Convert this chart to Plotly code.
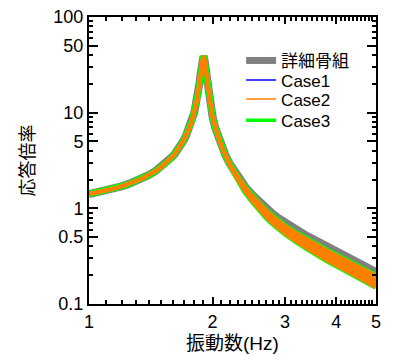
import plotly.graph_objects as go

freq = [1.0, 1.05, 1.1, 1.15, 1.2, 1.25, 1.3, 1.35, 1.4, 1.45, 1.5, 1.55, 1.6, 1.62, 1.64,
        1.66, 1.68, 1.70, 1.72, 1.74, 1.75, 1.76, 1.78, 1.79, 1.8, 1.81, 1.82, 1.83, 1.84,
        1.85, 1.86, 1.87, 1.88, 1.89, 1.9, 1.91, 1.92, 1.93, 1.94, 1.95, 1.96, 1.97, 1.98,
        1.99, 2.0, 2.03, 2.06, 2.1,
        2.15, 2.2, 2.25, 2.3, 2.4, 2.5, 2.6, 2.7, 2.8, 2.9, 3.0, 3.2, 3.4, 3.6, 3.8, 4.0,
        4.2, 4.4, 4.6, 4.8, 5.0]

detail_frame = [1.41, 1.47, 1.53, 1.61, 1.70, 1.80, 1.92, 2.06, 2.23, 2.44, 2.71, 3.05, 3.51, 3.74, 4.0,
                4.31, 4.68, 5.11, 5.65, 6.32, 6.73, 7.09, 8.2, 8.88, 9.7, 10.7, 11.9, 13.4, 15.3,
                17.8, 21.0, 25.1, 31.0, 36.0, 39.0, 36.0, 30.3, 24.6, 20.2, 16.9, 14.5, 12.6, 11.1,
                9.97, 9.0, 6.96, 5.70, 4.51,
                3.57, 2.94, 2.49, 2.16, 1.69, 1.38, 1.16, 1.00, 0.88, 0.785, 0.71, 0.60, 0.513, 0.452, 0.397, 0.355,
                0.319, 0.288, 0.260, 0.237, 0.216]

case1 = [1.41, 1.47, 1.53, 1.61, 1.70, 1.80, 1.92, 2.06, 2.23, 2.44, 2.71, 3.05, 3.51, 3.74, 4.0,
         4.31, 4.68, 5.11, 5.65, 6.32, 6.73, 7.09, 8.2, 8.88, 9.7, 10.7, 11.9, 13.4, 15.3,
         17.8, 21.0, 25.1, 31.0, 36.0, 39.0, 36.0, 30.3, 24.6, 20.2, 16.9, 14.5, 12.6, 11.1,
         9.97, 9.0, 6.96, 5.70, 4.51,
         3.57, 2.94, 2.48, 2.14, 1.66, 1.34, 1.11, 0.95, 0.827, 0.73, 0.653, 0.546, 0.467, 0.411, 0.361, 0.323,
         0.290, 0.262, 0.237, 0.216, 0.197]

case2_upper = [1.41, 1.47, 1.53, 1.61, 1.70, 1.80, 1.92, 2.06, 2.23, 2.44, 2.71, 3.05, 3.51, 3.74, 4.0,
               4.31, 4.68, 5.11, 5.65, 6.32, 6.73, 7.09, 8.2, 8.88, 9.7, 10.7, 11.9, 13.4, 15.3,
               17.8, 21.0, 25.1, 31.0, 36.0, 39.0, 36.0, 30.3, 24.6, 20.2, 16.9, 14.5, 12.6, 11.1,
               9.97, 9.0, 6.96, 5.70, 4.51,
               3.57, 2.94, 2.48, 2.14, 1.66, 1.34, 1.11, 0.95, 0.827, 0.73, 0.653, 0.546, 0.467, 0.411, 0.361, 0.323,
               0.290, 0.262, 0.237, 0.216, 0.197]
case2_lower = [1.41, 1.47, 1.53, 1.61, 1.70, 1.80, 1.92, 2.06, 2.23, 2.44, 2.71, 3.05, 3.51, 3.74, 4.0,
               4.31, 4.68, 5.11, 5.65, 6.32, 6.73, 7.09, 8.2, 8.88, 9.7, 10.7, 11.9, 13.4, 15.3,
               17.8, 21.0, 25.1, 31.0, 36.0, 39.0, 36.0, 30.3, 24.6, 20.2, 16.9, 14.5, 12.6, 11.1,
               9.97, 9.0, 6.96, 5.70, 4.51,
               3.52, 2.85, 2.37, 2.01, 1.50, 1.19, 0.97, 0.81, 0.70, 0.612, 0.547, 0.45, 0.377, 0.328, 0.286, 0.254,
               0.226, 0.203, 0.182, 0.166, 0.151]

case3_upper = [1.41, 1.47, 1.53, 1.61, 1.70, 1.80, 1.92, 2.06, 2.23, 2.44, 2.71, 3.05, 3.51, 3.74, 4.0,
               4.31, 4.68, 5.11, 5.65, 6.32, 6.73, 7.09, 8.2, 8.88, 9.7, 10.7, 11.9, 13.4, 15.3,
               17.8, 21.0, 25.1, 31.0, 36.0, 39.0, 36.0, 30.3, 24.6, 20.2, 16.9, 14.5, 12.6, 11.1,
               9.97, 9.0, 6.96, 5.70, 4.51,
               3.57, 2.94, 2.48, 2.14, 1.66, 1.34, 1.11, 0.95, 0.827, 0.73, 0.653, 0.546, 0.467, 0.411, 0.361, 0.323,
               0.290, 0.262, 0.237, 0.216, 0.197]
case3_lower = [1.41, 1.47, 1.53, 1.61, 1.70, 1.80, 1.92, 2.06, 2.23, 2.44, 2.71, 3.05, 3.51, 3.74, 4.0,
               4.31, 4.68, 5.11, 5.65, 6.32, 6.73, 7.09, 8.2, 8.88, 9.7, 10.7, 11.9, 13.4, 15.3,
               17.8, 21.0, 25.1, 31.0, 36.0, 39.0, 36.0, 30.3, 24.6, 20.2, 16.9, 14.5, 12.6, 11.1,
               9.97, 9.0, 6.96, 5.70, 4.51,
               3.52, 2.85, 2.37, 2.01, 1.50, 1.19, 0.97, 0.81, 0.70, 0.612, 0.547, 0.45, 0.377, 0.328, 0.286, 0.254,
               0.226, 0.203, 0.182, 0.166, 0.151]

x_tickvals = [1, 2, 3, 4, 5]
x_ticktext = ["1", "2", "3", "4", "5"]
y_tickvals = [0.1, 0.5, 1, 5, 10, 50, 100]
y_ticktext = ["0.1", "0.5", "1", "5", "10", "50", "100"]
x_minor = [1.1, 1.2, 1.3, 1.4, 1.5, 1.6, 1.7, 1.8, 1.9,
           2.1, 2.2, 2.3, 2.4, 2.5, 2.6, 2.7, 2.8, 2.9,
           3.1, 3.2, 3.3, 3.4, 3.5, 3.6, 3.7, 3.8, 3.9,
           4.1, 4.2, 4.3, 4.4, 4.5, 4.6, 4.7, 4.8, 4.9]
y_minor = [0.2, 0.3, 0.4, 0.6, 0.7, 0.8, 0.9, 2, 3, 4, 6, 7, 8, 9,
           20, 30, 40, 60, 70, 80, 90]

legend_names = ["詳細骨組", "Case1", "Case2", "Case3"]

GRAY = "#808080"
BLUE = "#0000ff"
ORANGE = "#ff8000"
GREEN = "#00ff00"
FONT = "Liberation Sans, Arial, Noto Sans CJK JP, sans-serif"

fig = go.Figure()
# plotted curves
fig.add_trace(go.Scatter(x=freq, y=detail_frame, mode="lines", line=dict(color=GRAY, width=8),
                         showlegend=False, hoverinfo="skip"))
fig.add_trace(go.Scatter(x=freq, y=case3_upper, mode="lines", line=dict(color=GREEN, width=6),
                         showlegend=False, hoverinfo="skip"))
fig.add_trace(go.Scatter(x=freq, y=case3_lower, mode="lines", line=dict(color=GREEN, width=6),
                         showlegend=False, hoverinfo="skip"))
fig.add_trace(go.Scatter(x=freq, y=case1, mode="lines", line=dict(color=BLUE, width=1.5),
                         showlegend=False, hoverinfo="skip"))
fig.add_trace(go.Scatter(x=freq, y=case2_upper, mode="lines", line=dict(color=ORANGE, width=4),
                         showlegend=False, hoverinfo="skip"))
fig.add_trace(go.Scatter(x=freq, y=case2_lower, mode="lines", line=dict(color=ORANGE, width=4),
                         fill="tonexty", fillcolor=ORANGE, showlegend=False, hoverinfo="skip"))

# legend entries (one small legend per row for exact spacing)
legend_styles = [(GRAY, 7), (BLUE, 1.5), (ORANGE, 1.5), (GREEN, 3.5)]
legend_rows_y = [0.847, 0.779, 0.7125, 0.639]
legend_ids = ["legend", "legend2", "legend3", "legend4"]
for name, (color, width), lid in zip(legend_names, legend_styles, legend_ids):
    fig.add_trace(go.Scatter(x=[None], y=[None], mode="lines", name=name, legend=lid,
                             line=dict(color=color, width=width)))

axis_common = dict(
    showline=True, linecolor="black", linewidth=2, mirror="allticks",
    ticks="inside", tickcolor="black", tickwidth=1.5, showgrid=False, zeroline=False,
    tickfont=dict(family=FONT, size=18, color="black"), ticklabeloverflow="allow",
)

fig.update_xaxes(type="log", range=[0, 0.69897], tickmode="array", tickvals=x_tickvals,
                 ticktext=x_ticktext, ticklen=7,
                 minor=dict(tickmode="array", tickvals=x_minor, ticks="inside", ticklen=4,
                            tickcolor="black", tickwidth=1.5, showgrid=False),
                 title=dict(text="振動数(Hz)", font=dict(family=FONT, size=19, color="black"),
                            standoff=6),
                 **axis_common)
fig.update_yaxes(type="log", range=[-1, 2], tickmode="array", tickvals=y_tickvals,
                 ticktext=y_ticktext, ticklen=9,
                 minor=dict(tickmode="array", tickvals=y_minor, ticks="inside", ticklen=4,
                            tickcolor="black", tickwidth=1.5, showgrid=False),
                 title=dict(text="応答倍率", font=dict(family=FONT, size=18, color="black"),
                            standoff=14),
                 **axis_common)

legend_common = dict(x=0.53, xanchor="left", yanchor="middle", bgcolor="rgba(0,0,0,0)",
                     borderwidth=0, font=dict(family=FONT, size=17, color="black"),
                     itemclick=False, itemdoubleclick=False)

# the page body adds an 8 px offset, so the figure is 8 px smaller than the window
fig.update_layout(
    width=387, height=348,
    margin=dict(l=81, r=19, t=9, b=52, autoexpand=False),
    plot_bgcolor="white", paper_bgcolor="white",
    font=dict(family=FONT, size=16, color="black"),
    legend=dict(y=legend_rows_y[0], **legend_common),
    legend2=dict(y=legend_rows_y[1], **legend_common),
    legend3=dict(y=legend_rows_y[2], **legend_common),
    legend4=dict(y=legend_rows_y[3], **legend_common),
    showlegend=True,
)

fig.write_html("out.html")
